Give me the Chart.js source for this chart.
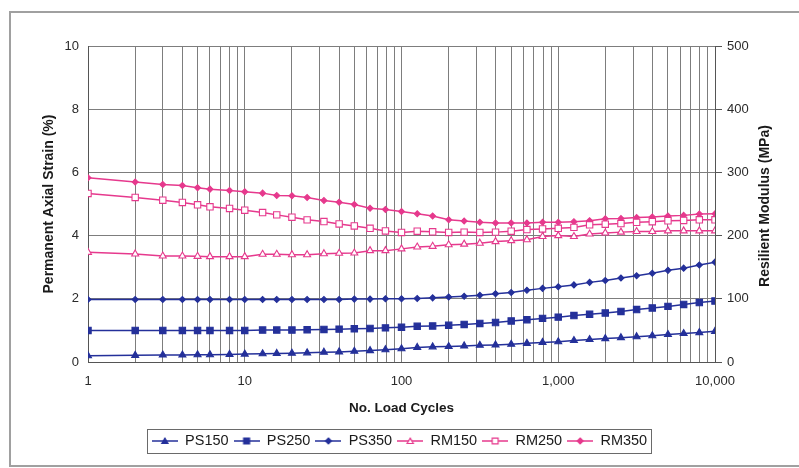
<!DOCTYPE html>
<html><head><meta charset="utf-8">
<script src="https://cdn.jsdelivr.net/npm/chart.js@4.4.1/dist/chart.umd.min.js"></script>
<style>html,body{margin:0;padding:0;background:#fff;overflow:hidden}canvas{display:block}</style>
</head><body>
<canvas id="c" width="799" height="468"></canvas>
<script>
// ---- data ----
const cycles = [1,2,3,4,5,6,8,10,13,16,20,25,32,40,50,63,79,100,126,158,200,251,316,398,501,631,794,1000,1259,1585,1995,2512,3162,3981,5012,6310,7943,10000];
const ps150 = [0.20,0.21,0.22,0.22,0.23,0.23,0.24,0.25,0.26,0.27,0.28,0.29,0.31,0.32,0.34,0.36,0.39,0.42,
               0.46,0.48,0.49,0.51,0.53,0.54,0.56,0.59,0.62,0.64,0.68,0.71,0.74,0.77,0.80,0.83,0.87,0.90,0.93,0.97];
const ps250 = [1.00,1.00,1.00,1.00,1.00,1.00,1.00,1.00,1.01,1.01,1.01,1.02,1.03,1.04,1.05,1.06,1.08,1.10,
               1.13,1.14,1.16,1.19,1.22,1.25,1.30,1.34,1.38,1.42,1.47,1.51,1.55,1.60,1.66,1.71,1.76,1.82,1.88,1.93];
const ps350 = [1.98,1.98,1.98,1.98,1.98,1.98,1.98,1.98,1.98,1.98,1.98,1.98,1.98,1.98,1.99,1.99,2.00,2.00,
               2.01,2.03,2.06,2.08,2.11,2.16,2.20,2.27,2.33,2.38,2.44,2.52,2.58,2.66,2.73,2.81,2.90,2.97,3.07,3.16];
const rm150 = [173.5,171,167.7,167.7,167.2,166.7,166.7,166.7,170.4,170.4,169.8,169.8,171.4,172,172.5,176.2,176.2,179,
               182,183,185.5,186.5,188,190.5,192,193.5,198.5,200,198.5,202.5,204,205.5,206.5,206.5,207.5,207.5,207.5,207.5];
const rm250 = [266.7,260.3,256.1,252.4,248.7,245.5,242.9,240.2,236.5,232.8,229.1,224.9,222.2,218.5,215.3,211.6,207.4,205,
               207,206,205,205.5,205,205.5,207,209.5,210.5,211.5,213,217,218,219,221,222,223.5,224,225,225];
const rm350 = [291.5,284.7,281,279.4,275.7,273.5,271.4,269.3,267.2,263.5,263,260.3,255.6,252.9,249.2,243.4,241.3,238,
               234.5,231,225,223,221,220,220,220,221,221,222,223.5,226.5,227,228.5,229.5,231,232,234,234.5];
const seriesNames = ['PS150','PS250','PS350','RM150','RM250','RM350'];
const xMajorLabels = [1,10,100,1000,10000];
const leftTicks = [0,2,4,6,8,10];
const rightTicks = [0,100,200,300,400,500];
const xTitle = 'No. Load Cycles';
const yLeftTitle = 'Permanent Axial Strain (%)';
const yRightTitle = 'Resilient Modulus (MPa)';

// ---- styling ----
const FONT = '"Liberation Sans", Arial, Helvetica, sans-serif';
const BLUE = '#24309a', PINK = '#e6398d';
const GRID = '#7d7d7d';

const pts = arr => arr.map((v,i)=>({x:cycles[i], y:v}));

function legendImg(style, color, fill, r) {
  const c = document.createElement('canvas'); c.width = 26; c.height = 12;
  const g = c.getContext('2d');
  g.strokeStyle = color; g.lineWidth = 1.5;
  g.beginPath(); g.moveTo(0,6); g.lineTo(26,6); g.stroke();
  g.fillStyle = fill; g.lineWidth = 1.2;
  const x = 13, y = 6;
  g.beginPath();
  if (style === 'triangle') {
    for (let k=0;k<3;k++){ const a = k*2*Math.PI/3; const px = x+Math.sin(a)*r, py = y-Math.cos(a)*r*1.0+ r*0.2; if(k===0) g.moveTo(px,py); else g.lineTo(px,py);} g.closePath();
  } else if (style === 'rect') {
    const s = r*Math.SQRT1_2; g.rect(x-s,y-s,2*s,2*s);
  } else {
    g.moveTo(x,y-r); g.lineTo(x+r,y); g.lineTo(x,y+r); g.lineTo(x-r,y); g.closePath();
  }
  g.fill(); g.stroke();
  return c;
}
const legendImgs = [
  legendImg('triangle', BLUE, BLUE, 3.6),
  legendImg('rect', BLUE, BLUE, 4.2),
  legendImg('rectRot', BLUE, BLUE, 3),
  legendImg('triangle', PINK, '#fff', 3.6),
  legendImg('rect', PINK, '#fff', 4.2),
  legendImg('rectRot', PINK, PINK, 3)
];

function ds(i, data, axis, color, style, radius, fill) {
  return {
    label: seriesNames[i], data: pts(data), yAxisID: axis,
    borderColor: color, backgroundColor: color, borderWidth: 1.5,
    pointStyle: style, pointRadius: radius, pointHoverRadius: radius,
    pointBackgroundColor: fill, pointBorderColor: color, pointBorderWidth: 1.1,
    tension: 0, fill: false
  };
}

const isPow10 = v => Math.abs(Math.log10(v) - Math.round(Math.log10(v))) < 1e-9;

const decorPlugin = {
  id: 'decor',
  beforeDraw(chart) {
    const ctx = chart.ctx;
    ctx.save(); ctx.fillStyle = '#fff'; ctx.fillRect(0,0,chart.width,chart.height); ctx.restore();
  },
  afterDraw(chart) {
    const ctx = chart.ctx;
    ctx.save();
    // outer frame
    ctx.strokeStyle = '#a0a0a0'; ctx.lineWidth = 2;
    ctx.strokeRect(10, 12, 800, 454);
    // right axis title (reads bottom to top)
    const ca = chart.chartArea;
    ctx.fillStyle = '#1a1a1a';
    ctx.font = 'bold 14px ' + FONT;
    ctx.textAlign = 'center'; ctx.textBaseline = 'middle';
    ctx.translate(765, (ca.top + ca.bottom)/2 + 2);
    ctx.rotate(-Math.PI/2);
    ctx.fillText(yRightTitle, 0, 0);
    ctx.restore();
    // legend border
    const hb = chart.legend.legendHitBoxes;
    if (hb && hb.length) {
      let l = Infinity, r = -Infinity, t = Infinity, b = -Infinity;
      hb.forEach(h => { l = Math.min(l, h.left); r = Math.max(r, h.left + h.width); t = Math.min(t, h.top); b = Math.max(b, h.top + h.height); });
      ctx.save();
      ctx.strokeStyle = '#6a6a6a'; ctx.lineWidth = 1;
      const cy = (t + b)/2;
      ctx.strokeRect(Math.round(l - 5) + 0.5, Math.round(cy - 12) + 0.5, Math.round(r - l + 9), 24);
      ctx.restore();
    }
  }
};

new Chart(document.getElementById('c'), {
  type: 'line',
  data: {
    datasets: [
      ds(0, ps150, 'y', BLUE, 'triangle', 4, BLUE),
      ds(1, ps250, 'y', BLUE, 'rect', 4.5, BLUE),
      ds(2, ps350, 'y', BLUE, 'rectRot', 3, BLUE),
      ds(3, rm150, 'y1', PINK, 'triangle', 4, '#fff'),
      ds(4, rm250, 'y1', PINK, 'rect', 4.5, '#fff'),
      ds(5, rm350, 'y1', PINK, 'rectRot', 3, PINK)
    ]
  },
  options: {
    responsive: false, animation: false, devicePixelRatio: 1,
    layout: { padding: { top: 46, left: 0, right: 0, bottom: 9.75 } },
    plugins: {
      tooltip: { enabled: false },
      legend: {
        display: true, position: 'bottom',
        labels: {
          usePointStyle: true, pointStyleWidth: 26, padding: 5,
          color: '#1a1a1a', font: { size: 14.5, family: FONT },
          generateLabels: (chart) => chart.data.datasets.map((d, i) => ({
            text: d.label, pointStyle: legendImgs[i], fillStyle: 'transparent',
            strokeStyle: 'transparent', lineWidth: 0, hidden: false, datasetIndex: i, fontColor: '#1a1a1a'
          }))
        }
      }
    },
    scales: {
      x: {
        type: 'logarithmic', position: 'bottom', min: 1, max: 10000,
        afterBuildTicks: (s) => {
          const t = [];
          for (let e = 0; e < 4; e++) for (let m = 1; m <= 9; m++) t.push({ value: m * Math.pow(10, e) });
          t.push({ value: 10000 });
          s.ticks = t;
        },
        afterFit: (s) => { s.height = 66.75; },
        ticks: {
          autoSkip: false, maxRotation: 0, minRotation: 0, padding: 12,
          color: '#2a2a2a', font: { size: 13, family: FONT },
          callback: (v) => (isPow10(v) && xMajorLabels.includes(Math.round(v))) ? Math.round(v).toLocaleString('en-US') : ''
        },
        grid: { color: GRID, lineWidth: 1, drawTicks: false },
        border: { color: '#555', width: 1 },
        title: { display: true, text: xTitle, color: '#1a1a1a', font: { size: 13.5, weight: 'bold', family: FONT }, padding: { top: 0, bottom: 12.65 } }
      },
      y: {
        type: 'linear', position: 'left', min: 0, max: 10,
        afterBuildTicks: (s) => { s.ticks = leftTicks.map(v => ({ value: v })); },
        afterFit: (s) => { s.width = 88; },
        ticks: { padding: 9, color: '#2a2a2a', font: { size: 13, family: FONT } },
        grid: { color: GRID, lineWidth: 1, drawTicks: false },
        border: { color: '#555', width: 1 },
        title: { display: true, text: yLeftTitle, color: '#1a1a1a', font: { size: 14, weight: 'bold', family: FONT }, padding: { top: 40.6, bottom: 0 } }
      },
      y1: {
        type: 'linear', position: 'right', min: 0, max: 500,
        afterBuildTicks: (s) => { s.ticks = rightTicks.map(v => ({ value: v })); },
        afterFit: (s) => { s.width = 84; },
        ticks: { padding: 5, color: '#2a2a2a', font: { size: 13, family: FONT } },
        grid: { drawOnChartArea: false, drawTicks: true, tickLength: 7, tickColor: '#555', color: '#555' },
        border: { color: '#555', width: 1 }
      }
    }
  },
  plugins: [decorPlugin]
});
</script>
</body></html>
